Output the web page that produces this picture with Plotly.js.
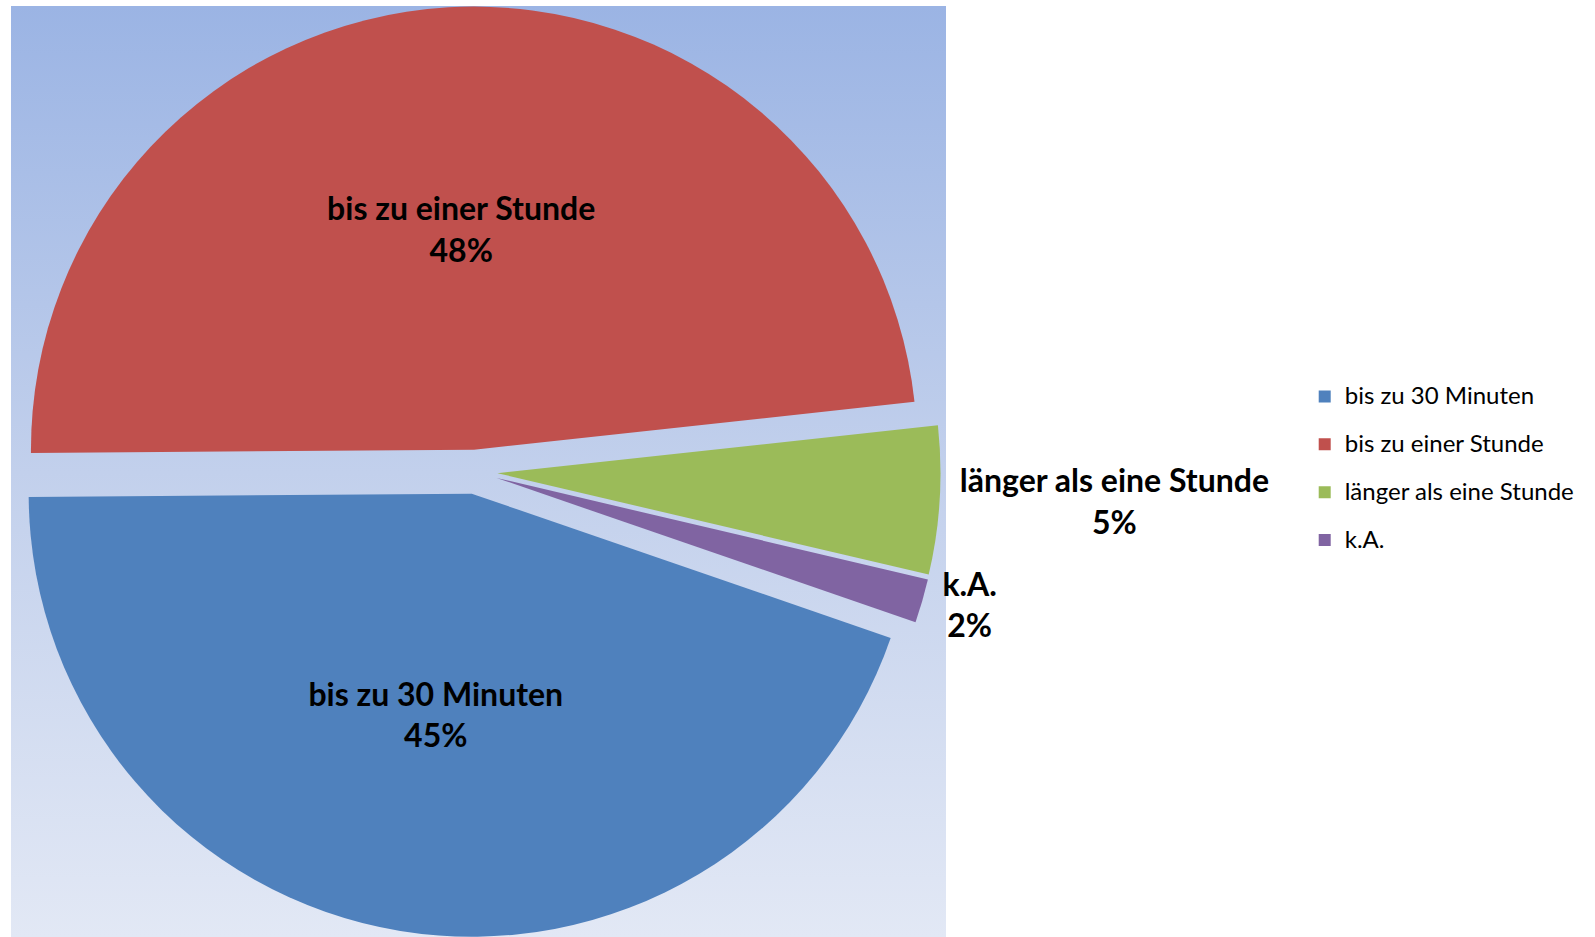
<!DOCTYPE html>
<html>
<head>
<meta charset="utf-8">
<script src="https://cdn.plot.ly/plotly-3.0.1.min.js"></script>
<style>
  html, body { margin: 0; padding: 0; background: #fff; }
  #chart { width: 1595px; height: 937px; }
</style>
</head>
<body>
<div id="chart"></div>
<script>
// Dauer - Anteile
const categories = ['bis zu 30 Minuten', 'bis zu einer Stunde', 'länger als eine Stunde', 'k.A.'];
const shares = [44.6, 48.4, 5.4, 1.6];
const sliceColors = ['#4F81BD', '#C0504D', '#9BBB59', '#8064A2'];
const textPositions = ['inside', 'inside', 'outside', 'outside'];

// gradient behind the pie (Excel-style plot area fill)
const bgSvg = "<svg xmlns='http://www.w3.org/2000/svg' width='100' height='100' preserveAspectRatio='none'>" +
  "<defs><linearGradient id='g' x1='0' y1='0' x2='0' y2='1'>" +
  "<stop offset='0' stop-color='#9BB4E4'/><stop offset='0.5' stop-color='#C2D0EC'/><stop offset='1' stop-color='#E2E8F5'/>" +
  "</linearGradient></defs><rect width='100' height='100' fill='url(#g)'/></svg>";
const bgUri = 'data:image/svg+xml;charset=utf-8,' + encodeURIComponent(bgSvg);

// legend labels: big legend font gives the row spacing, spans give the visible size
const legendLabels = categories.map(c =>
  '<span style="font-size:14px"><sup><span style="font-size:24px">' + c + '</span></sup></span>');

const trace = {
  type: 'pie',
  labels: legendLabels,
  values: shares,
  text: categories,
  texttemplate: '<b>%{text}<br>%{percent:.0%}</b>',
  textposition: textPositions,
  insidetextorientation: 'horizontal',
  sort: false,
  direction: 'clockwise',
  rotation: 109,
  pull: [0.05, 0.05, 0.05, 0.05],
  marker: { colors: sliceColors, line: { width: 0 } },
  insidetextfont: { family: 'Lato, sans-serif', size: 32, color: '#000' },
  outsidetextfont: { family: 'Lato, sans-serif', size: 32, color: '#000' },
  hoverinfo: 'skip',
  domain: { x: [0.004, 0.592], y: [0, 0.993] }
};

const layout = {
  width: 1595,
  height: 937,
  margin: { l: 0, r: 0, t: 0, b: 0 },
  paper_bgcolor: '#fff',
  showlegend: true,
  legend: {
    x: 0.818, xanchor: 'left',
    y: 0.5, yanchor: 'middle',
    font: { family: 'Lato, sans-serif', size: 34.5, color: '#000' },
    itemclick: false
  },
  images: [{
    source: bgUri,
    xref: 'paper', yref: 'paper',
    x: 0.0069, y: 0.9936,
    sizex: 0.5862, sizey: 0.9936,
    xanchor: 'left', yanchor: 'top',
    sizing: 'stretch',
    layer: 'below'
  }]
};

Plotly.newPlot('chart', [trace], layout, { displayModeBar: false, staticPlot: true });
</script>
</body>
</html>
